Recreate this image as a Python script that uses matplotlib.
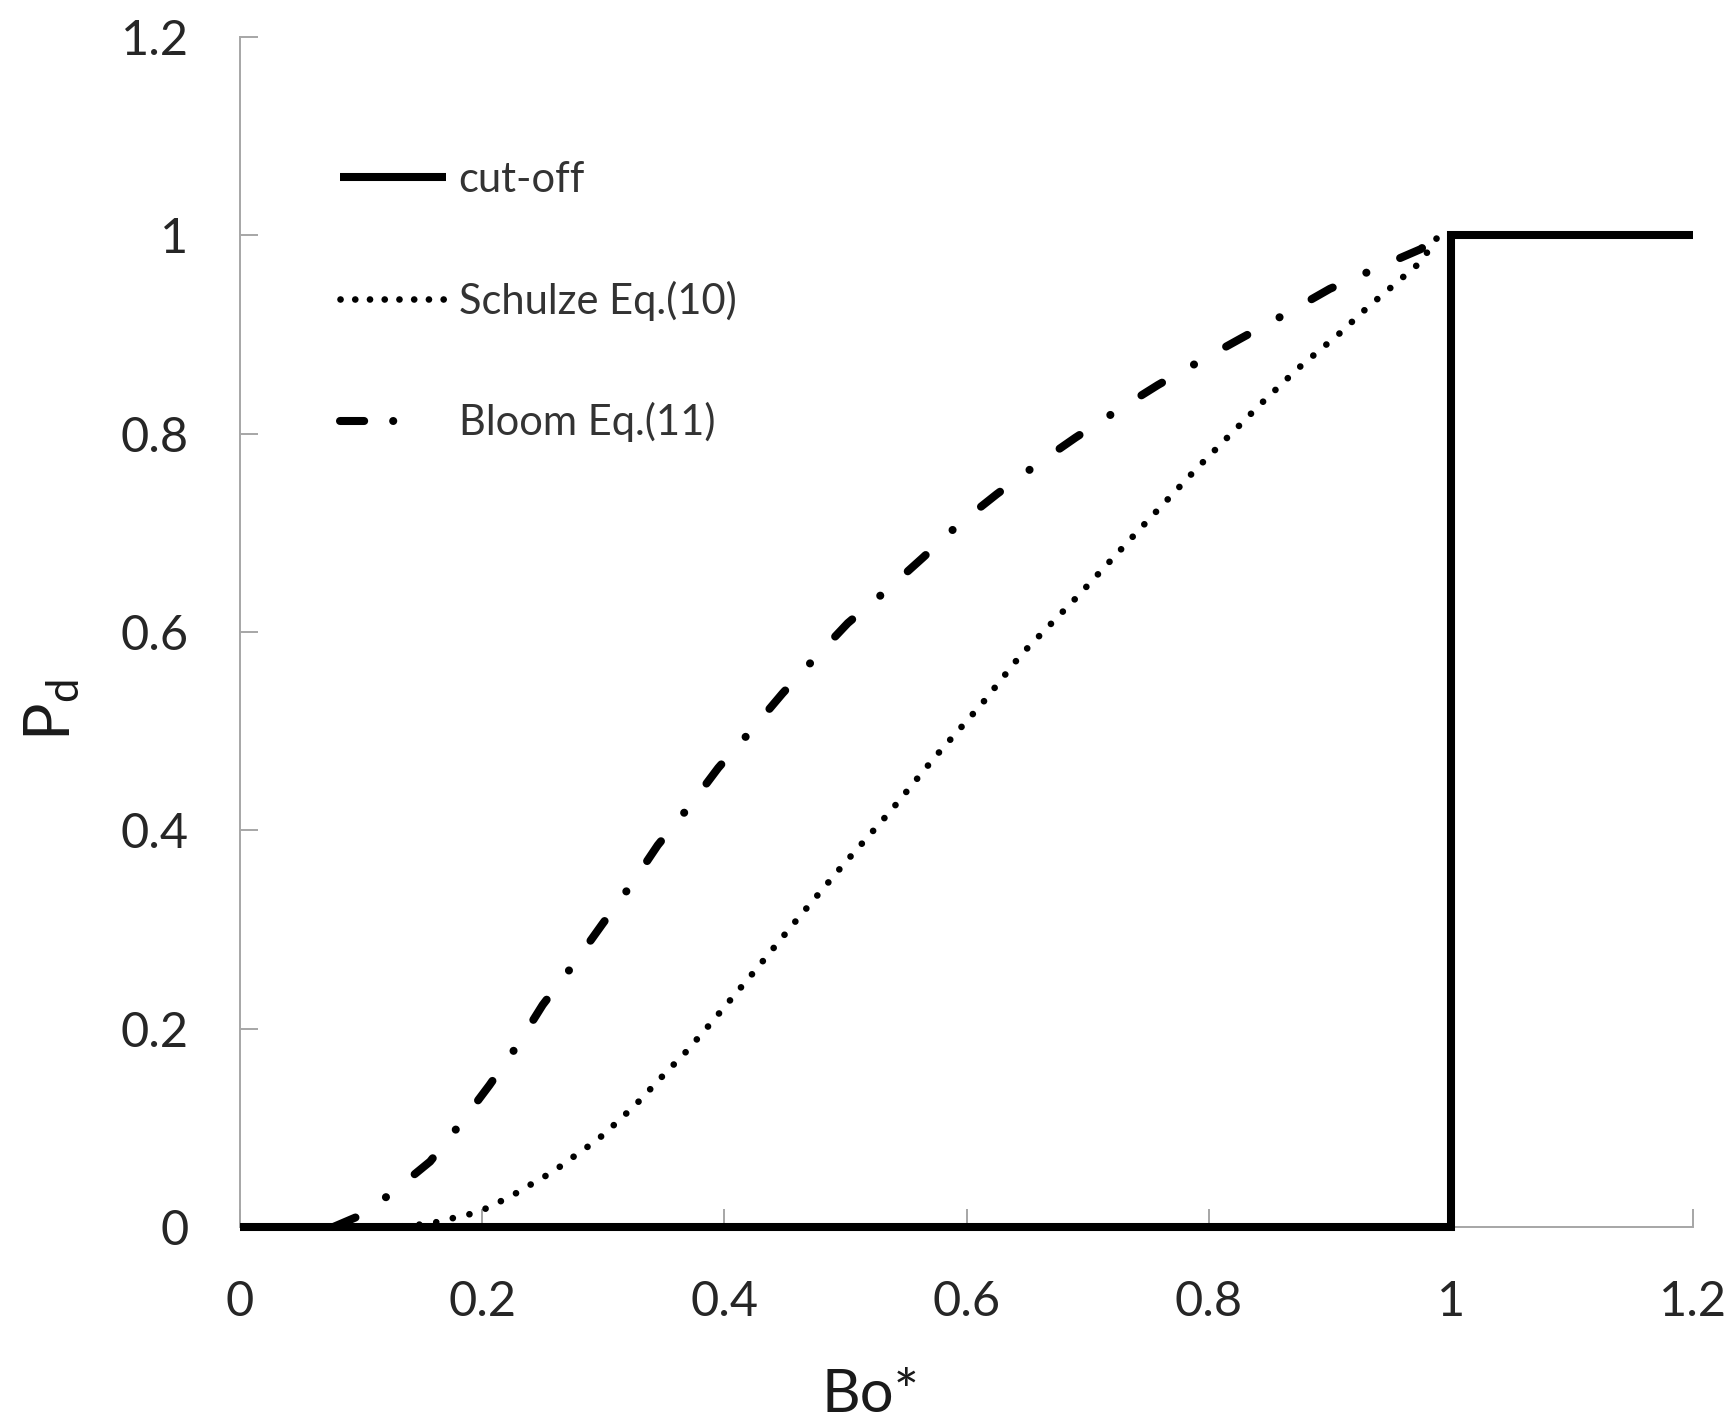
import matplotlib
matplotlib.use("Agg")
import matplotlib.pyplot as plt
from matplotlib.lines import Line2D

plt.rcParams['font.family'] = ['Lato', 'DejaVu Sans']
plt.rcParams['mathtext.fontset'] = 'custom'
plt.rcParams['mathtext.rm'] = 'Lato'
plt.rcParams['mathtext.it'] = 'Lato:italic'

# ---- data ----
cutoff_x = [0.0, 1.0, 1.0, 1.2]
cutoff_y = [0.0, 0.0, 1.0, 1.0]

schulze_x = [0.12, 0.14, 0.163, 0.176, 0.19, 0.204, 0.217, 0.231, 0.243, 0.256,
             0.268, 0.28, 0.292, 0.303, 0.314, 0.325, 0.335, 0.345, 0.355, 0.365,
             0.375, 0.385, 0.394, 0.425, 0.46, 0.498, 0.537, 0.574, 0.613, 0.645,
             0.691, 0.741, 0.791, 0.843, 0.874, 0.908, 0.930, 0.953, 0.975, 0.99]
schulze_y = [0.0, 0.001, 0.005, 0.009, 0.013, 0.019, 0.027, 0.036, 0.045, 0.054,
             0.064, 0.075, 0.085, 0.096, 0.109, 0.121, 0.134, 0.147, 0.160, 0.172,
             0.186, 0.200, 0.213, 0.258, 0.31, 0.365, 0.419, 0.474, 0.528, 0.577,
             0.635, 0.701, 0.766, 0.830, 0.866, 0.901, 0.926, 0.950, 0.973, 1.0]

bloom_x = [0.077, 0.10, 0.125, 0.157, 0.182, 0.206, 0.229, 0.25, 0.275, 0.299,
           0.323, 0.345, 0.371, 0.395, 0.421, 0.448, 0.475, 0.502, 0.534, 0.564,
           0.593, 0.625, 0.657, 0.690, 0.724, 0.758, 0.794, 0.828, 0.864, 0.900,
           0.937, 0.975, 0.99]
bloom_y = [0.0, 0.012, 0.034, 0.066, 0.104, 0.143, 0.183, 0.224, 0.264, 0.305,
           0.345, 0.385, 0.424, 0.463, 0.499, 0.538, 0.574, 0.609, 0.642, 0.675,
           0.708, 0.739, 0.768, 0.796, 0.823, 0.849, 0.874, 0.897, 0.921, 0.946,
           0.966, 0.986, 1.0]

ticks = [0, 0.2, 0.4, 0.6, 0.8, 1.0, 1.2]
tick_labels = ['0', '0.2', '0.4', '0.6', '0.8', '1', '1.2']

labels = ['cut-off', 'Schulze Eq.(10)', 'Bloom Eq.(11)']

# ---- figure ----
W, H = 1735, 1420
fig = plt.figure(figsize=(W / 100, H / 100), dpi=100)
ax = fig.add_axes([240 / W, 1 - 1227 / H, 1453 / W, 1190 / H])

dot_style = (0, (0.01, 2.55))
dashdot_style = (0, (3.0, 4.56, 0.01, 4.56))

l1, = ax.plot(cutoff_x, cutoff_y, color='black', lw=5.8, solid_joinstyle='miter',
              solid_capstyle='butt', clip_on=False, zorder=4)
l2, = ax.plot(schulze_x, schulze_y, color='black', lw=4.8, linestyle=dot_style,
              dash_capstyle='round', clip_on=False, zorder=3)
l3, = ax.plot(bloom_x, bloom_y, color='black', lw=5.8, linestyle=dashdot_style,
              dash_capstyle='round', clip_on=False, zorder=3)

# legend proxy for the dash-dot (one dash and one dot, as in the reference)
h3 = Line2D([], [], color='black', lw=5.8, linestyle=(0, (3.0, 3.6, 0.01, 20)),
            dash_capstyle='round')
h2 = Line2D([], [], color='black', lw=4.8, linestyle=(0, (0.01, 2.2)),
            dash_capstyle='round')

ax.set_xlim(0, 1.2)
ax.set_ylim(0, 1.2)
ax.set_xticks(ticks)
ax.set_xticklabels(tick_labels)
ax.set_yticks(ticks)
ax.set_yticklabels(tick_labels)

for s in ['top', 'right']:
    ax.spines[s].set_visible(False)
for s in ['left', 'bottom']:
    ax.spines[s].set_color('#a6a6a6')
    ax.spines[s].set_linewidth(1.4)

ax.tick_params(axis='both', direction='in', length=13, width=1.4, color='#a6a6a6',
               labelsize=35, labelcolor='#262626')
ax.tick_params(axis='x', pad=38)
ax.tick_params(axis='y', pad=37)

leg = ax.legend([l1, h2, h3], labels, loc='upper left',
                bbox_to_anchor=(0.0688, 0.896), frameon=False, fontsize=30,
                handlelength=2.55, handletextpad=0.3, labelspacing=1.96,
                borderpad=0, borderaxespad=0)
for t in leg.get_texts():
    t.set_color('#333333')

fig.text(870 / W, 1 - 1412 / H, 'Bo*', fontsize=43, ha='center', va='baseline',
         color='#1a1a1a')
fig.text(52 / W, 1 - 710 / H, r'$\mathrm{P_d}$', fontsize=45, ha='center',
         va='center', rotation=90, color='#1a1a1a')

fig.savefig('out.png', dpi=100, facecolor='white')
